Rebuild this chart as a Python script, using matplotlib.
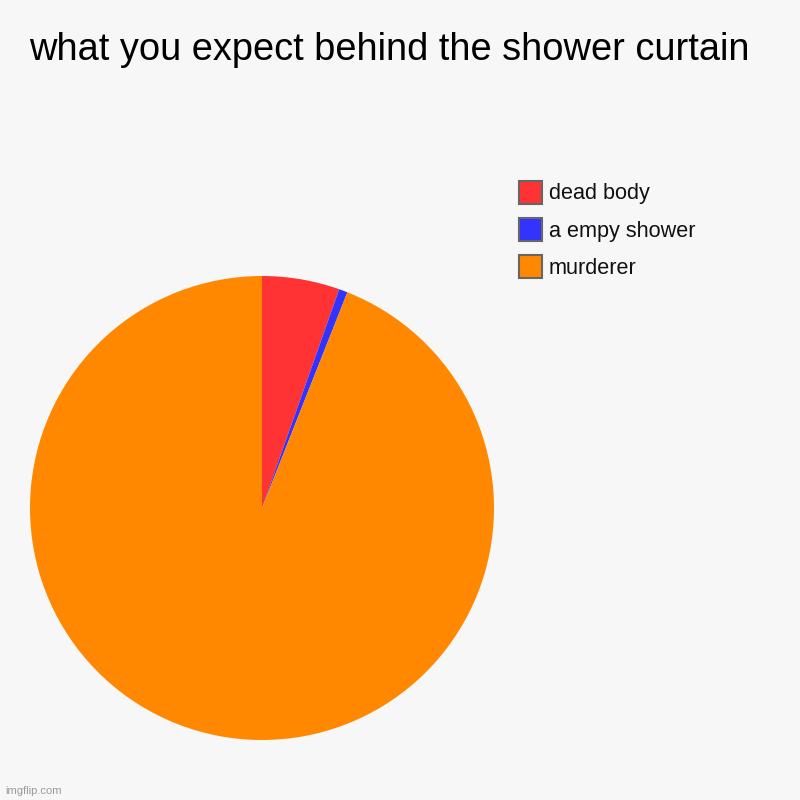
import matplotlib.pyplot as plt
from matplotlib.patches import Rectangle

labels = ["dead body", "a empy shower", "murderer"]
values = [5.4, 0.6, 94.0]
colors = ["#ff3333", "#3333ff", "#ff8800"]

plt.rcParams["font.family"] = ["Liberation Sans", "DejaVu Sans"]
bg = "#f7f7f7"

fig = plt.figure(figsize=(8, 8), dpi=100, facecolor=bg)

# pie: center (262, 508) px, radius 232 px
ax = fig.add_axes([30 / 800, 60 / 800, 464 / 800, 464 / 800])
ax.set_facecolor(bg)
ax.pie(values, colors=colors, startangle=90, counterclock=False,
       radius=1, wedgeprops=dict(linewidth=0))
ax.set_xlim(-1, 1)
ax.set_ylim(-1, 1)
ax.set_aspect("equal")
ax.axis("off")

fig.text(29 / 800, 1 - 50 / 800, "what you expect behind the shower curtain",
         fontsize=27.4, va="center", ha="left", color="#000000")

# legend
for i, (lab, col) in enumerate(zip(labels, colors)):
    y = 193 + i * 37
    fig.patches.append(Rectangle((519 / 800, 1 - (y + 11) / 800), 23 / 800, 23 / 800,
                                 transform=fig.transFigure, facecolor=col,
                                 edgecolor="#666666", linewidth=1.5))
    fig.text(549 / 800, 1 - (y + 1) / 800, lab, fontsize=15.6, va="center", ha="left",
             color="#111111")

fig.text(5 / 800, 1 - 791 / 800, "imgflip.com", fontsize=8, color="#999999",
         va="center", ha="left")

fig.savefig("out.png", dpi=100, facecolor=bg)
